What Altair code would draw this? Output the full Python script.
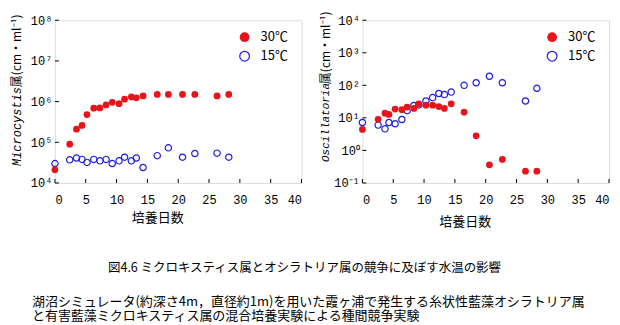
import altair as alt
import pandas as pd

# ---- data ----
days_mc = [0, 2.4, 3.5, 4.4, 5.2, 6.3, 7.3, 8.3, 9.3, 10.4, 11.3, 12.4, 13.2, 14.3, 16.6, 18.4, 20.7, 22.7, 26.3, 28.2]
mc_30 = [2.1e4, 9.0e4, 2.1e5, 2.6e5, 4.8e5, 6.9e5, 7.0e5, 8.3e5, 9.6e5, 8.9e5, 1.15e6, 1.3e6, 1.24e6, 1.38e6,
         1.5e6, 1.5e6, 1.5e6, 1.5e6, 1.38e6, 1.5e6]
mc_15 = [3.0e4, 3.7e4, 4.1e4, 3.8e4, 3.2e4, 3.8e4, 3.5e4, 3.8e4, 3.0e4, 3.5e4, 4.3e4, 3.5e4, 4.1e4, 2.4e4,
         4.7e4, 7.3e4, 4.3e4, 5.3e4, 5.4e4, 4.3e4]

days_os = [0, 2.55, 3.66, 4.3, 5.3, 6.4, 7.25, 8.35, 9.15, 10.3, 11.4, 12.4, 13.3, 14.4, 16.5, 18.45, 20.6, 22.7, 26.45, 28.3]
os_30 = [4.4, 9.0, 14, 12.8, 18.6, 17.8, 21.5, 19.5, 27, 24.6, 24.6, 22.3, 19.5, 27, 15, 2.8, 0.36, 0.53, 0.23, 0.23]
os_15 = [7.2, 6.0, 4.6, 7.2, 6.6, 8.9, 16.6, 24, 25, 33, 42, 56, 52, 62, 100, 120, 190, 120, 33, 81]

x_ticks = [0, 5, 10, 15, 20, 25, 30, 35, 40]
mc_yticks = [1e4, 1e5, 1e6, 1e7, 1e8]
os_yticks = [0.1, 1, 10, 100, 1000, 10000]
legend_labels = ["30℃", "15℃"]
x_title = "培養日数"
fig_title = "図4.6  ミクロキスティス属とオシラトリア属の競争に及ぼす水温の影響"
caption_1 = "湖沼シミュレータ(約深さ4m，直径約1m)を用いた霞ヶ浦で発生する糸状性藍藻オシラトリア属"
caption_2 = "と有害藍藻ミクロキスティス属の混合培養実験による種間競争実験"

W, H = 247, 163
RED = "#e8141c"
BLUE = "#1c1ce0"
JP = "Noto Sans CJK JP"
MONO = "Liberation Mono"

LABEL_EXPR = ("'10' + ['⁻¹','⁰','¹','²','³','⁴','⁵','⁶','⁷','⁸'][round(log(datum.value)/LN10)+1]")


def txt(s, x, y, **kw):
    return alt.Chart(pd.DataFrame({"t": [s]})).mark_text(**kw).encode(
        text="t:N", x=alt.value(x), y=alt.value(y))


def panel(days, v30, v15, ydom, yticks, genus, genus_size, genus_y, unit_y, title_x, xtitle_y, extra=None):
    xs = alt.Scale(domain=[0, 40], nice=False, zero=False)
    ys = alt.Scale(type="log", domain=ydom, nice=False)
    xax = alt.Axis(values=x_ticks, ticks=False, domain=False, grid=False, title=None,
                   labelPadding=12, labelFont=MONO, labelFontSize=12, labelColor="black")
    yax = alt.Axis(values=yticks, ticks=False, domain=False, grid=False, title=None,
                   labelExpr=LABEL_EXPR, labelPadding=3, labelFont=MONO, labelFontSize=12,
                   labelColor="black")
    X = lambda f: alt.X(f, scale=xs, axis=xax)
    Y = lambda f: alt.Y(f, scale=ys, axis=yax)
    d15 = pd.DataFrame({"day": days, "value": v15})
    d30 = pd.DataFrame({"day": days, "value": v30})
    blue = alt.Chart(d15).mark_point(shape="circle", filled=False, color=BLUE, size=40,
                                     strokeWidth=1.2, opacity=1).encode(x=X("day:Q"), y=Y("value:Q"))
    red = alt.Chart(d30).mark_point(shape="circle", filled=True, color=RED, size=46,
                                    opacity=1).encode(x=X("day:Q"), y=Y("value:Q"))
    xt = alt.Chart(pd.DataFrame({"day": x_ticks})).mark_rule(color="black").encode(
        x=X("day:Q"), y=alt.value(H), y2=alt.value(H - 4))
    yt = alt.Chart(pd.DataFrame({"value": yticks})).mark_rule(color="black").encode(
        y=Y("value:Q"), x=alt.value(0), x2=alt.value(4))
    leg_red = alt.Chart(pd.DataFrame({"t": [legend_labels[0]]})).mark_point(
        shape="circle", filled=True, color=RED, size=95, opacity=1).encode(
        x=alt.value(190), y=alt.value(17))
    leg_blue = alt.Chart(pd.DataFrame({"t": [legend_labels[1]]})).mark_point(
        shape="circle", filled=False, color=BLUE, size=95, strokeWidth=1.2, opacity=1).encode(
        x=alt.value(190), y=alt.value(36))
    leg_t1 = txt(legend_labels[0], 206, 17, align="left", baseline="middle", font=JP, fontSize=13)
    leg_t2 = txt(legend_labels[1], 206, 36, align="left", baseline="middle", font=JP, fontSize=13)
    g = txt(genus, title_x, genus_y, align="left", baseline="middle", angle=270, font=MONO,
            fontSize=genus_size, fontStyle="italic")
    u = txt("属(cm・ml⁻¹)", title_x, unit_y, align="left", baseline="middle", angle=270, font=JP,
            fontSize=12)
    xtl = txt(x_title, 103, xtitle_y, align="center", baseline="middle", font=JP, fontSize=13)
    layers = [blue, red, xt, yt, leg_red, leg_blue, leg_t1, leg_t2, g, u, xtl]
    if extra:
        layers += extra
    return alt.layer(*layers).properties(width=W, height=H)


captions = [
    txt(fig_title, 250, 248, align="center", baseline="middle", font=JP, fontSize=12.5),
    txt(caption_1, -23, 282, align="left", baseline="middle", font=JP, fontSize=13),
    txt(caption_2, -23, 296, align="left", baseline="middle", font=JP, fontSize=13),
]

left = panel(days_mc, mc_30, mc_15, [1e4, 1e8], mc_yticks, "Microcystis", 12, 146, 67, -38, 198,
             extra=captions)
right = panel(days_os, os_30, os_15, [0.1, 1e4], os_yticks, "Oscillatoria", 11, 142, 64, -36, 202)

chart = alt.hconcat(left, right, spacing=61, bounds="flush").properties(
    padding={"left": 2, "top": 2, "right": 2, "bottom": 2}
).configure_view(stroke="black", strokeWidth=1).configure(background="white")

chart.save("out.html", embed_options={"renderer": "svg", "actions": False})
